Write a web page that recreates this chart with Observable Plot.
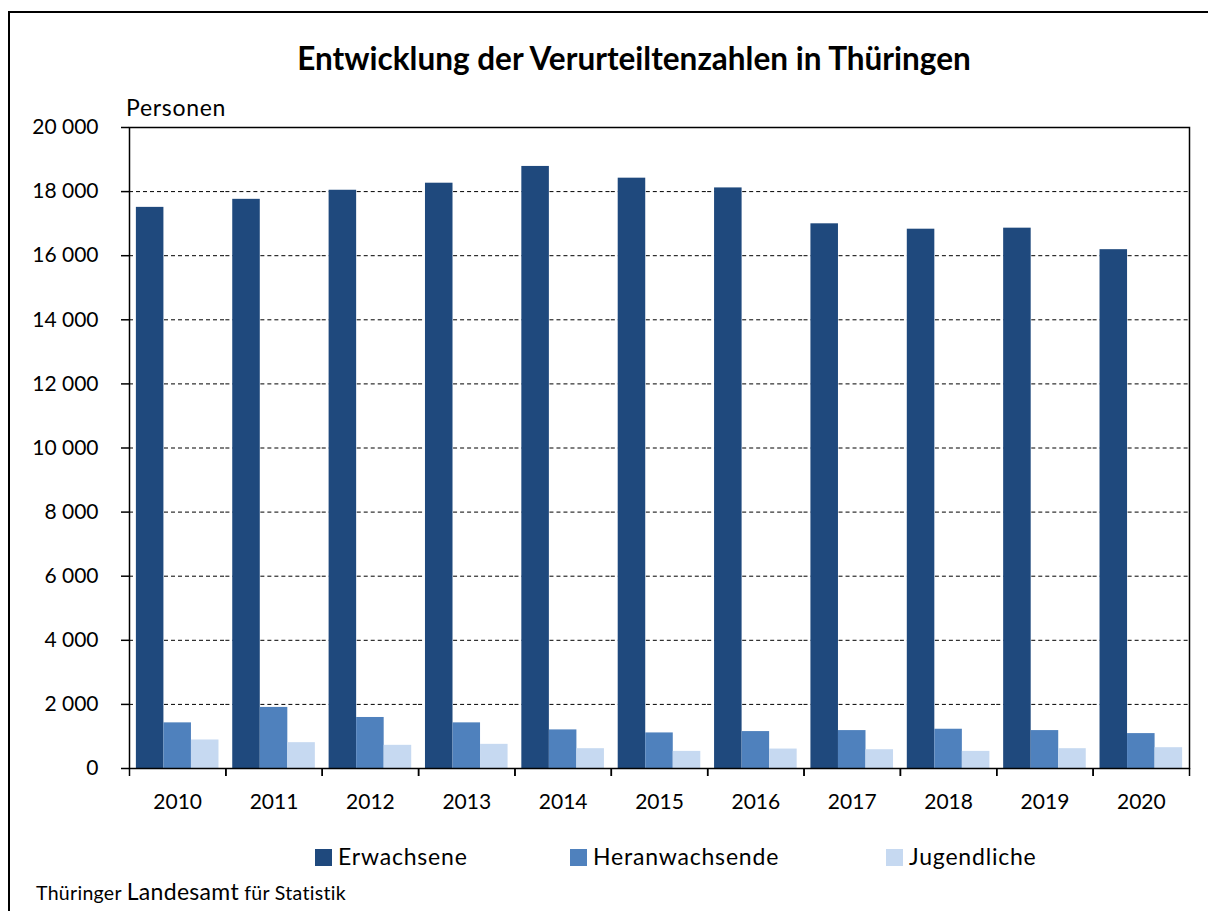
<!DOCTYPE html>
<html>
<head>
<meta charset="utf-8">
<script src="https://cdn.jsdelivr.net/npm/d3@7"></script>
<script src="https://cdn.jsdelivr.net/npm/@observablehq/plot@0.6"></script>
<style>
  html, body { margin: 0; padding: 0; background: #fff; overflow: hidden; }
  body { width: 1208px; height: 911px; position: relative; font-family: Lato, "Noto Sans", sans-serif; color: #000; }
  #border { position: absolute; left: 8px; top: 11px; width: 1400px; height: 1200px; border: 2px solid #000; box-sizing: border-box; }
  #title { position: absolute; left: 0; width: 1268px; top: 39px; text-align: center; font-weight: 700; font-size: 31.5px; line-height: 38px; }
  #chart { position: absolute; left: 0; top: 0; }
  #unit { position: absolute; left: 126px; top: 94px; font-size: 23px; letter-spacing: 0.7px; line-height: 26px; }
  .leg { position: absolute; top: 843px; font-size: 23px; letter-spacing: 0.8px; line-height: 26px; white-space: nowrap; }
  .leg span.sw { display: inline-block; width: 17px; height: 17px; margin-right: 6px; vertical-align: -1px; }
  #footer { position: absolute; left: 36px; top: 879px; font-size: 19.5px; line-height: 24px; white-space: nowrap; letter-spacing: 0.3px; }
  #footer .big { font-size: 23px; }
</style>
</head>
<body>
<div id="border"></div>
<div id="title">Entwicklung der Verurteiltenzahlen in Thüringen</div>
<div id="unit">Personen</div>
<div id="chart"></div>
<div id="legend"></div>
<div id="footer">Thüringer <span class="big">Landesamt</span> für Statistik</div>
<script>
const years = ["2010","2011","2012","2013","2014","2015","2016","2017","2018","2019","2020"];
const series = ["Erwachsene","Heranwachsende","Jugendliche"];
const erwachsene = [17508, 17759, 18042, 18262, 18785, 18419, 18115, 16995, 16827, 16859, 16188];
const heranwachsende = [1424, 1906, 1592, 1424, 1204, 1110, 1152, 1183, 1225, 1183, 1089];
const jugendliche = [890, 806, 723, 754, 618, 534, 607, 586, 534, 618, 649];
const colors = ["#1f497d", "#4f81bd", "#c6d9f1"];
const yTicks = [0, 2000, 4000, 6000, 8000, 10000, 12000, 14000, 16000, 18000, 20000];

const valuesBySeries = [erwachsene, heranwachsende, jugendliche];
const data = years.flatMap((year, i) =>
  series.map((s, j) => ({year, series: s, value: valuesBySeries[j][i]})));

const W = 1208, mL = 129, mR = 19;
const step = (W - mL - mR) / years.length;
const fmt = d => d3.format(",")(d).replace(/,/g, " ");

const chart = Plot.plot({
  width: W,
  height: 830,
  marginTop: 127,
  marginLeft: mL,
  marginRight: mR,
  marginBottom: 62,
  style: {fontFamily: "Lato, sans-serif", fontSize: "21px", color: "#000", background: "transparent", overflow: "visible"},
  fx: {domain: years, padding: 0, round: false, label: null},
  x: {domain: series, paddingInner: 0, paddingOuter: 0.25, round: false, axis: null},
  y: {domain: [0, 20000], label: null},
  color: {domain: series, range: colors},
  marks: [
    Plot.gridY(yTicks, {stroke: "#000", strokeOpacity: 1, strokeWidth: 1, strokeDasharray: "4,3"}),
    Plot.barY(data, {fx: "year", x: "series", y: "value", fill: "series"}),
    Plot.frame({facet: "super", stroke: "#000", strokeWidth: 1.5}),
    Plot.axisY(yTicks, {tickSize: 8, tickPadding: 23, tickFormat: fmt, fontSize: 21, label: null, strokeWidth: 1.5}),
    Plot.axisFx({anchor: "bottom", tickSize: 0, tickPadding: 26, fontSize: 21, label: null}),
    Plot.axisFx({anchor: "bottom", tickSize: 8, tickFormat: () => "", dx: -step / 2, label: null, strokeWidth: 1.5}),
    Plot.axisFx({anchor: "bottom", tickSize: 8, tickFormat: () => "", dx: step / 2, label: null, strokeWidth: 1.5})
  ]
});
document.getElementById("chart").appendChild(chart);

const legendLeft = [315, 570, 886];
const legend = document.getElementById("legend");
series.forEach((s, i) => {
  const el = document.createElement("div");
  el.className = "leg";
  el.style.left = legendLeft[i] + "px";
  el.innerHTML = `<span class="sw" style="background:${colors[i]}"></span>${s}`;
  legend.appendChild(el);
});
</script>
</body>
</html>
